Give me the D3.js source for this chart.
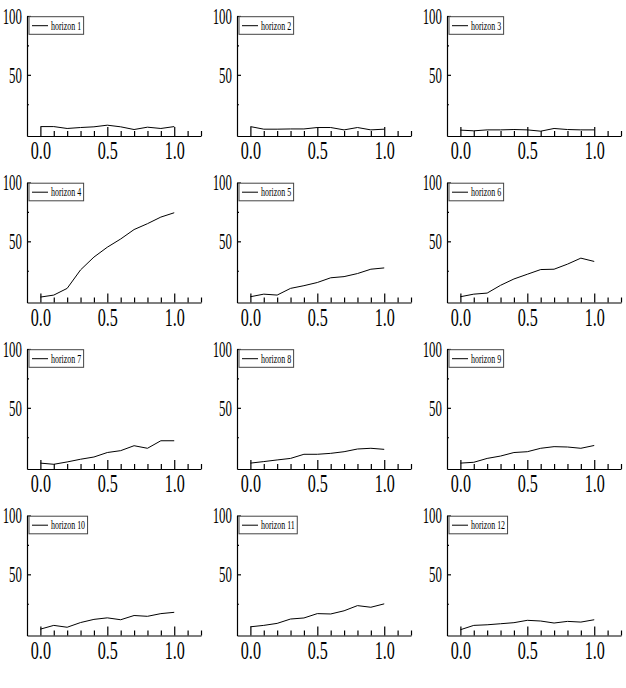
<!DOCTYPE html>
<html>
<head>
<meta charset="utf-8">
<script src="https://cdn.jsdelivr.net/npm/d3@7"></script>
<style>
  body { margin: 0; background: #fff; }
</style>
</head>
<body>
<div id="chart"></div>
<script>
// x positions shared by every panel
const xValues = [0.0, 0.1, 0.2, 0.3, 0.4, 0.5, 0.6, 0.7, 0.8, 0.9, 1.0];
const horizonNames = ['horizon 1', 'horizon 2', 'horizon 3', 'horizon 4', 'horizon 5', 'horizon 6',
  'horizon 7', 'horizon 8', 'horizon 9', 'horizon 10', 'horizon 11', 'horizon 12'];

const horizon1 = [6, 6, 4.4, 5.2, 5.8, 7.2, 5.8, 3.5, 5.5, 4.4, 6];
const horizon2 = [6, 3.8, 3.8, 4, 4, 5.2, 5.2, 3.2, 5.2, 3.2, 3.8];
const horizon3 = [3, 2.4, 3.2, 3.2, 3.5, 3.2, 2.1, 4.4, 3.5, 3.2, 3.2];
const horizon4 = [2.6, 4.3, 10, 25.7, 36.6, 45, 52, 60, 65, 70.6, 74.3];
const horizon5 = [2.9, 5.1, 4.3, 10, 12.3, 15, 19, 20, 22.6, 26.3, 27.4];
const horizon6 = [2.9, 5.1, 6, 12.6, 18, 22, 26, 26.3, 30.6, 35.7, 32.9];
const horizon7 = [3, 2, 4, 6.3, 8.2, 12, 13.6, 17.8, 15.6, 22, 22];
const horizon8 = [3, 4.3, 5.7, 7, 10.5, 10.5, 11.3, 12.7, 15, 15.6, 14.7];
const horizon9 = [3, 3.7, 7, 9, 12, 12.7, 15.6, 17, 16.7, 15.6, 18];
const horizon10 = [3.4, 6.6, 5, 9, 11.7, 13, 11.4, 15, 14.3, 16.6, 17.7];
const horizon11 = [5.4, 6.6, 8.3, 12, 12.9, 16.6, 16.3, 19, 23.4, 22, 24.9];
const horizon12 = [2.9, 6.6, 7.1, 8, 8.9, 10.9, 10.3, 8.6, 10, 9.4, 11.4];

const series = [horizon1, horizon2, horizon3, horizon4, horizon5, horizon6,
  horizon7, horizon8, horizon9, horizon10, horizon11, horizon12];

const xTickValues = [0, 0.1, 0.2, 0.3, 0.4, 0.5, 0.6, 0.7, 0.8, 0.9, 1.0, 1.1, 1.2];
const yTickValues = [25, 50, 75, 100];

const width = 626;
const height = 688;
const colX = [27, 237, 447];
const rowY = [16, 182.5, 349, 515.5];
const plotW = 174;
const plotH = 120;
const fontFamily = "'Liberation Serif', 'Times New Roman', serif";

const svg = d3.select('#chart')
  .append('svg')
  .attr('width', width)
  .attr('height', height);

const x = d3.scaleLinear().domain([-0.1, 1.2]).range([0, plotW]);
const y = d3.scaleLinear().domain([-2, 100]).range([plotH, 0]);

const isMajorX = d => Math.round(d * 10) % 5 === 0;
const isMajorY = d => d % 50 === 0;

const line = d3.line()
  .x((d, i) => x(xValues[i]))
  .y(d => y(d));

series.forEach((values, k) => {
  const col = k % 3;
  const row = Math.floor(k / 3);
  const g = svg.append('g')
    .attr('transform', `translate(${colX[col]},${rowY[row]})`);

  // x axis, ticks pointing inward
  const xAxis = g.append('g')
    .attr('transform', `translate(0,${plotH})`)
    .call(d3.axisBottom(x)
      .tickValues(xTickValues)
      .tickSize(-5)
      .tickSizeOuter(0)
      .tickPadding(5)
      .tickFormat(d => isMajorX(d) ? d3.format('.1f')(d) : ''));
  xAxis.selectAll('.tick line').attr('y2', d => isMajorX(d) ? -9 : -5);
  xAxis.selectAll('text')
    .attr('font-family', fontFamily)
    .attr('font-size', 26)
    .attr('fill', '#000')
    .attr('transform', 'scale(0.62,1)');

  // y axis
  const yAxis = g.append('g')
    .call(d3.axisLeft(y)
      .tickValues(yTickValues)
      .tickSize(-4)
      .tickSizeOuter(0)
      .tickPadding(9)
      .tickFormat(d => isMajorY(d) ? d : ''));
  yAxis.selectAll('.tick line').attr('x2', d => isMajorY(d) ? 4 : 2);
  yAxis.selectAll('text')
    .attr('font-family', fontFamily)
    .attr('font-size', 23)
    .attr('fill', '#000')
    .attr('transform', 'scale(0.56,1)');

  g.selectAll('.domain, .tick line')
    .attr('stroke', '#000')
    .attr('stroke-width', 1.2);

  // data line
  g.append('path')
    .datum(values)
    .attr('fill', 'none')
    .attr('stroke', '#000')
    .attr('stroke-width', 1)
    .attr('d', line);

  // legend
  const legend = g.append('g');
  const box = legend.append('rect')
    .attr('x', 2)
    .attr('y', 0.7)
    .attr('height', 17.6)
    .attr('fill', '#fff')
    .attr('stroke', '#444')
    .attr('stroke-width', 1);
  legend.append('line')
    .attr('x1', 5).attr('x2', 21)
    .attr('y1', 9.7).attr('y2', 9.7)
    .attr('stroke', '#000')
    .attr('stroke-width', 1);
  const label = legend.append('text')
    .attr('transform', 'translate(24,13.8) scale(0.66,1)')
    .attr('font-family', fontFamily)
    .attr('font-size', 12)
    .attr('fill', '#000')
    .text(horizonNames[k]);
  const textW = label.node().getComputedTextLength() * 0.66;
  box.attr('width', 22 + textW + 2.5);
});
</script>
</body>
</html>
